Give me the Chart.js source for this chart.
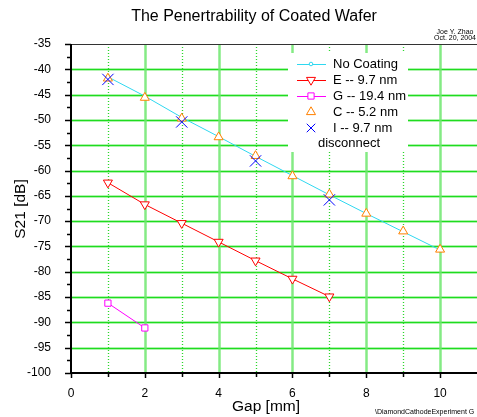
<!DOCTYPE html>
<html>
<head>
<meta charset="utf-8">
<script src="https://cdn.jsdelivr.net/npm/chart.js@4.4.1/dist/chart.umd.min.js"></script>
<style>
  html, body { margin: 0; padding: 0; background: #fff; }
  #wrap { width: 477px; height: 417px; }
</style>
</head>
<body>
<div id="wrap"><canvas id="waferChart" width="477" height="417"></canvas></div>
<script>
// gap in mm, S21 in dB
const gapNoCoating = [1, 2, 3, 4, 5, 6, 7, 8, 9, 10];
const s21NoCoating = [-41.5, -45.3, -49.5, -53.3, -57.2, -61.0, -64.8, -68.5, -72.1, -75.7];
const gapE = [1, 2, 3, 4, 5, 6, 7];
const s21E = [-62.4, -66.7, -70.4, -74.1, -77.8, -81.4, -84.9];
const gapG = [1, 2];
const s21G = [-86.2, -91.1];
const gapC = [1, 2, 3, 4, 5, 6, 7, 8, 9, 10];
const s21C = [-41.8, -45.6, -49.7, -53.4, -57.1, -61.1, -64.7, -68.5, -72.0, -75.6];
const gapI = [1, 3, 5, 7];
const s21I = [-42.0, -50.4, -58.1, -65.8];

const xTickLabels = ['0', '2', '4', '6', '8', '10'];
const yTickLabels = ['-35', '-40', '-45', '-50', '-55', '-60', '-65', '-70', '-75', '-80', '-85', '-90', '-95', '-100'];

const FONT = '"Liberation Sans", Arial, sans-serif';

function pts(xs, ys) {
    return xs.map((x, i) => ({ x: x, y: ys[i] }));
}

const legendItems = [
    { text: 'No Coating', color: '#2fd8f0', line: true, marker: 'circle', r: 1.8 },
    { text: 'E -- 9.7 nm', color: '#ff0000', line: true, marker: 'triangleDown', r: 5.2 },
    { text: 'G -- 19.4 nm', color: '#ff00ff', line: true, marker: 'rect', r: 4.4 },
    { text: 'C -- 5.2 nm', color: '#ff8000', line: false, marker: 'triangle', r: 5.2 },
    { text: 'I -- 9.7 nm', color: '#0000ff', line: false, marker: 'crossRot', r: 6 }
];

function drawMarker(ctx, kind, x, y, r, color) {
    ctx.save();
    ctx.strokeStyle = color;
    ctx.fillStyle = '#fff';
    ctx.lineWidth = 1;
    ctx.beginPath();
    if (kind === 'circle') {
        ctx.arc(x, y, r, 0, Math.PI * 2);
        ctx.fill();
    } else if (kind === 'triangle' || kind === 'triangleDown') {
        const s = kind === 'triangle' ? 1 : -1;
        ctx.moveTo(x, y - s * r);
        ctx.lineTo(x + r * 0.866, y + s * r * 0.5);
        ctx.lineTo(x - r * 0.866, y + s * r * 0.5);
        ctx.closePath();
        ctx.fill();
    } else if (kind === 'rect') {
        const h = r * Math.SQRT1_2;
        ctx.rect(x - h, y - h, 2 * h, 2 * h);
        ctx.fill();
    } else if (kind === 'crossRot') {
        const h = r * Math.SQRT1_2;
        ctx.moveTo(x - h, y - h); ctx.lineTo(x + h, y + h);
        ctx.moveTo(x - h, y + h); ctx.lineTo(x + h, y - h);
    }
    ctx.stroke();
    ctx.restore();
}

const frameAndGrid = {
    id: 'frameAndGrid',
    beforeDatasetsDraw(chart) {
        const ctx = chart.ctx;
        const a = chart.chartArea;
        const xs = chart.scales.x, ys = chart.scales.y;
        ctx.save();
        // horizontal grid every 5 dB
        for (let v = -95; v <= -40; v += 5) {
            const py = Math.round(ys.getPixelForValue(v)) + 0.5;
            ctx.strokeStyle = 'rgba(120,235,120,0.8)';
            ctx.lineWidth = 2.5;
            ctx.beginPath(); ctx.moveTo(a.left, py); ctx.lineTo(a.right, py); ctx.stroke();
            ctx.strokeStyle = '#1fdc1f';
            ctx.lineWidth = 1;
            ctx.beginPath(); ctx.moveTo(a.left, py); ctx.lineTo(a.right, py); ctx.stroke();
        }
        // vertical grid, solid at even gaps, dotted at odd
        for (let g = 1; g <= 10; g++) {
            const px = Math.round(xs.getPixelForValue(g)) + 0.5;
            ctx.beginPath(); ctx.moveTo(px, a.top); ctx.lineTo(px, a.bottom);
            if (g % 2 === 0) {
                ctx.setLineDash([]);
                ctx.strokeStyle = 'rgba(110,230,110,0.85)';
                ctx.lineWidth = 2.5;
            } else {
                ctx.setLineDash([1, 2]);
                ctx.strokeStyle = '#2cd82c';
                ctx.lineWidth = 1.3;
            }
            ctx.stroke();
        }
        ctx.restore();
    },
    afterDraw(chart) {
        const ctx = chart.ctx;
        const a = chart.chartArea;
        const xs = chart.scales.x, ys = chart.scales.y;
        ctx.save();
        // top frame
        ctx.strokeStyle = '#333';
        ctx.lineWidth = 1;
        ctx.beginPath(); ctx.moveTo(a.left, a.top + 0.5); ctx.lineTo(a.right, a.top + 0.5); ctx.stroke();
        // axes
        ctx.strokeStyle = '#000';
        ctx.lineWidth = 2;
        ctx.beginPath();
        ctx.moveTo(a.left, a.top); ctx.lineTo(a.left, a.bottom);
        ctx.lineTo(a.right, a.bottom);
        ctx.stroke();
        // y ticks (outward)
        ctx.lineWidth = 1.5;
        for (let v = -100; v <= -35; v += 2.5) {
            const py = Math.round(ys.getPixelForValue(v)) + 0.5;
            const len = v % 5 === 0 ? 6 : 4;
            ctx.beginPath(); ctx.moveTo(a.left - len, py); ctx.lineTo(a.left, py); ctx.stroke();
        }
        // x ticks (outward)
        for (let g = 0; g <= 10; g++) {
            const px = Math.round(xs.getPixelForValue(g)) + 0.5;
            const len = g % 2 === 0 ? 5 : 4;
            ctx.beginPath(); ctx.moveTo(px, a.bottom); ctx.lineTo(px, a.bottom + len); ctx.stroke();
        }

        // legend
        ctx.fillStyle = '#fff';
        ctx.fillRect(288, 53, 120, 99);
        ctx.font = '13px ' + FONT;
        ctx.textBaseline = 'middle';
        ctx.textAlign = 'left';
        legendItems.forEach((it, i) => {
            const y = 64 + i * 16;
            if (it.line) {
                ctx.strokeStyle = it.color;
                ctx.lineWidth = 1;
                ctx.beginPath(); ctx.moveTo(297, y + 0.5); ctx.lineTo(326, y + 0.5); ctx.stroke();
            }
            drawMarker(ctx, it.marker, 311, y, it.r, it.color);
            ctx.fillStyle = '#000';
            ctx.fillText(it.text, 333, y);
        });
        ctx.fillText('disconnect', 318, 143);

        // titles
        ctx.fillStyle = '#000';
        ctx.textAlign = 'center';
        ctx.font = '16px ' + FONT;
        ctx.fillText('The Penertrability of Coated Wafer', 254, 17);
        ctx.font = '15.5px ' + FONT;
        ctx.fillText('Gap [mm]', 266, 407);
        ctx.save();
        ctx.translate(21, 209);
        ctx.rotate(-Math.PI / 2);
        ctx.fillText('S21 [dB]', 0, 0);
        ctx.restore();

        ctx.font = '7px ' + FONT;
        ctx.fillText('Joe Y. Zhao', 455, 32);
        ctx.fillText('Oct. 20, 2004', 455, 38);
        ctx.textAlign = 'left';
        ctx.fillText('\\DiamondCathodeExperiment G', 375, 412);
        ctx.restore();
    }
};

const ctx = document.getElementById('waferChart').getContext('2d');

const waferChart = new Chart(ctx, {
    type: 'scatter',
    data: {
        datasets: [{
            label: 'No Coating',
            data: pts(gapNoCoating, s21NoCoating),
            showLine: true,
            borderColor: '#2fd8f0',
            backgroundColor: '#fff',
            borderWidth: 1,
            pointStyle: 'circle',
            pointRadius: 1.8,
            pointBorderWidth: 1,
            order: 4
        }, {
            label: 'E -- 9.7 nm',
            data: pts(gapE, s21E),
            showLine: true,
            borderColor: '#ff0000',
            backgroundColor: '#fff',
            borderWidth: 1,
            pointStyle: 'triangle',
            pointRotation: 180,
            pointRadius: 5.2,
            pointBorderWidth: 1,
            order: 3
        }, {
            label: 'G -- 19.4 nm',
            data: pts(gapG, s21G),
            showLine: true,
            borderColor: '#ff00ff',
            backgroundColor: '#fff',
            borderWidth: 1,
            pointStyle: 'rect',
            pointRadius: 4.4,
            pointBorderWidth: 1,
            order: 2
        }, {
            label: 'C -- 5.2 nm',
            data: pts(gapC, s21C),
            showLine: false,
            borderColor: '#ff8000',
            backgroundColor: '#fff',
            pointStyle: 'triangle',
            pointRadius: 5.2,
            pointBorderWidth: 1,
            order: 1
        }, {
            label: 'I -- 9.7 nm',
            data: pts(gapI, s21I),
            showLine: false,
            borderColor: '#0000ff',
            backgroundColor: '#0000ff',
            pointStyle: 'crossRot',
            pointRadius: 8,
            pointBorderWidth: 1,
            order: 0
        }]
    },
    options: {
        responsive: false,
        animation: false,
        devicePixelRatio: 1,
        layout: { autoPadding: false, padding: { top: 44, right: 0, left: 0, bottom: 0 } },
        plugins: {
            legend: { display: false },
            title: { display: false },
            tooltip: { enabled: false }
        },
        scales: {
            x: {
                type: 'linear',
                min: 0,
                max: 11,
                grid: { display: false },
                border: { display: false },
                ticks: {
                    stepSize: 1,
                    autoSkip: false,
                    maxRotation: 0,
                    padding: 5,
                    color: '#000',
                    font: { family: FONT, size: 12 },
                    callback: (v) => xTickLabels.includes(String(v)) ? String(v) : ''
                },
                afterFit: (s) => { s.height = 44; s.paddingRight = 0; }
            },
            y: {
                type: 'linear',
                min: -100,
                max: -35,
                grid: { display: false },
                border: { display: false },
                ticks: {
                    stepSize: 2.5,
                    autoSkip: false,
                    padding: 12,
                    color: '#000',
                    font: { family: FONT, size: 12 },
                    callback: (v) => yTickLabels.includes(String(v)) ? String(v) : ''
                },
                afterFit: (s) => { s.width = 71; }
            }
        }
    },
    plugins: [frameAndGrid]
});
</script>
</body>
</html>
